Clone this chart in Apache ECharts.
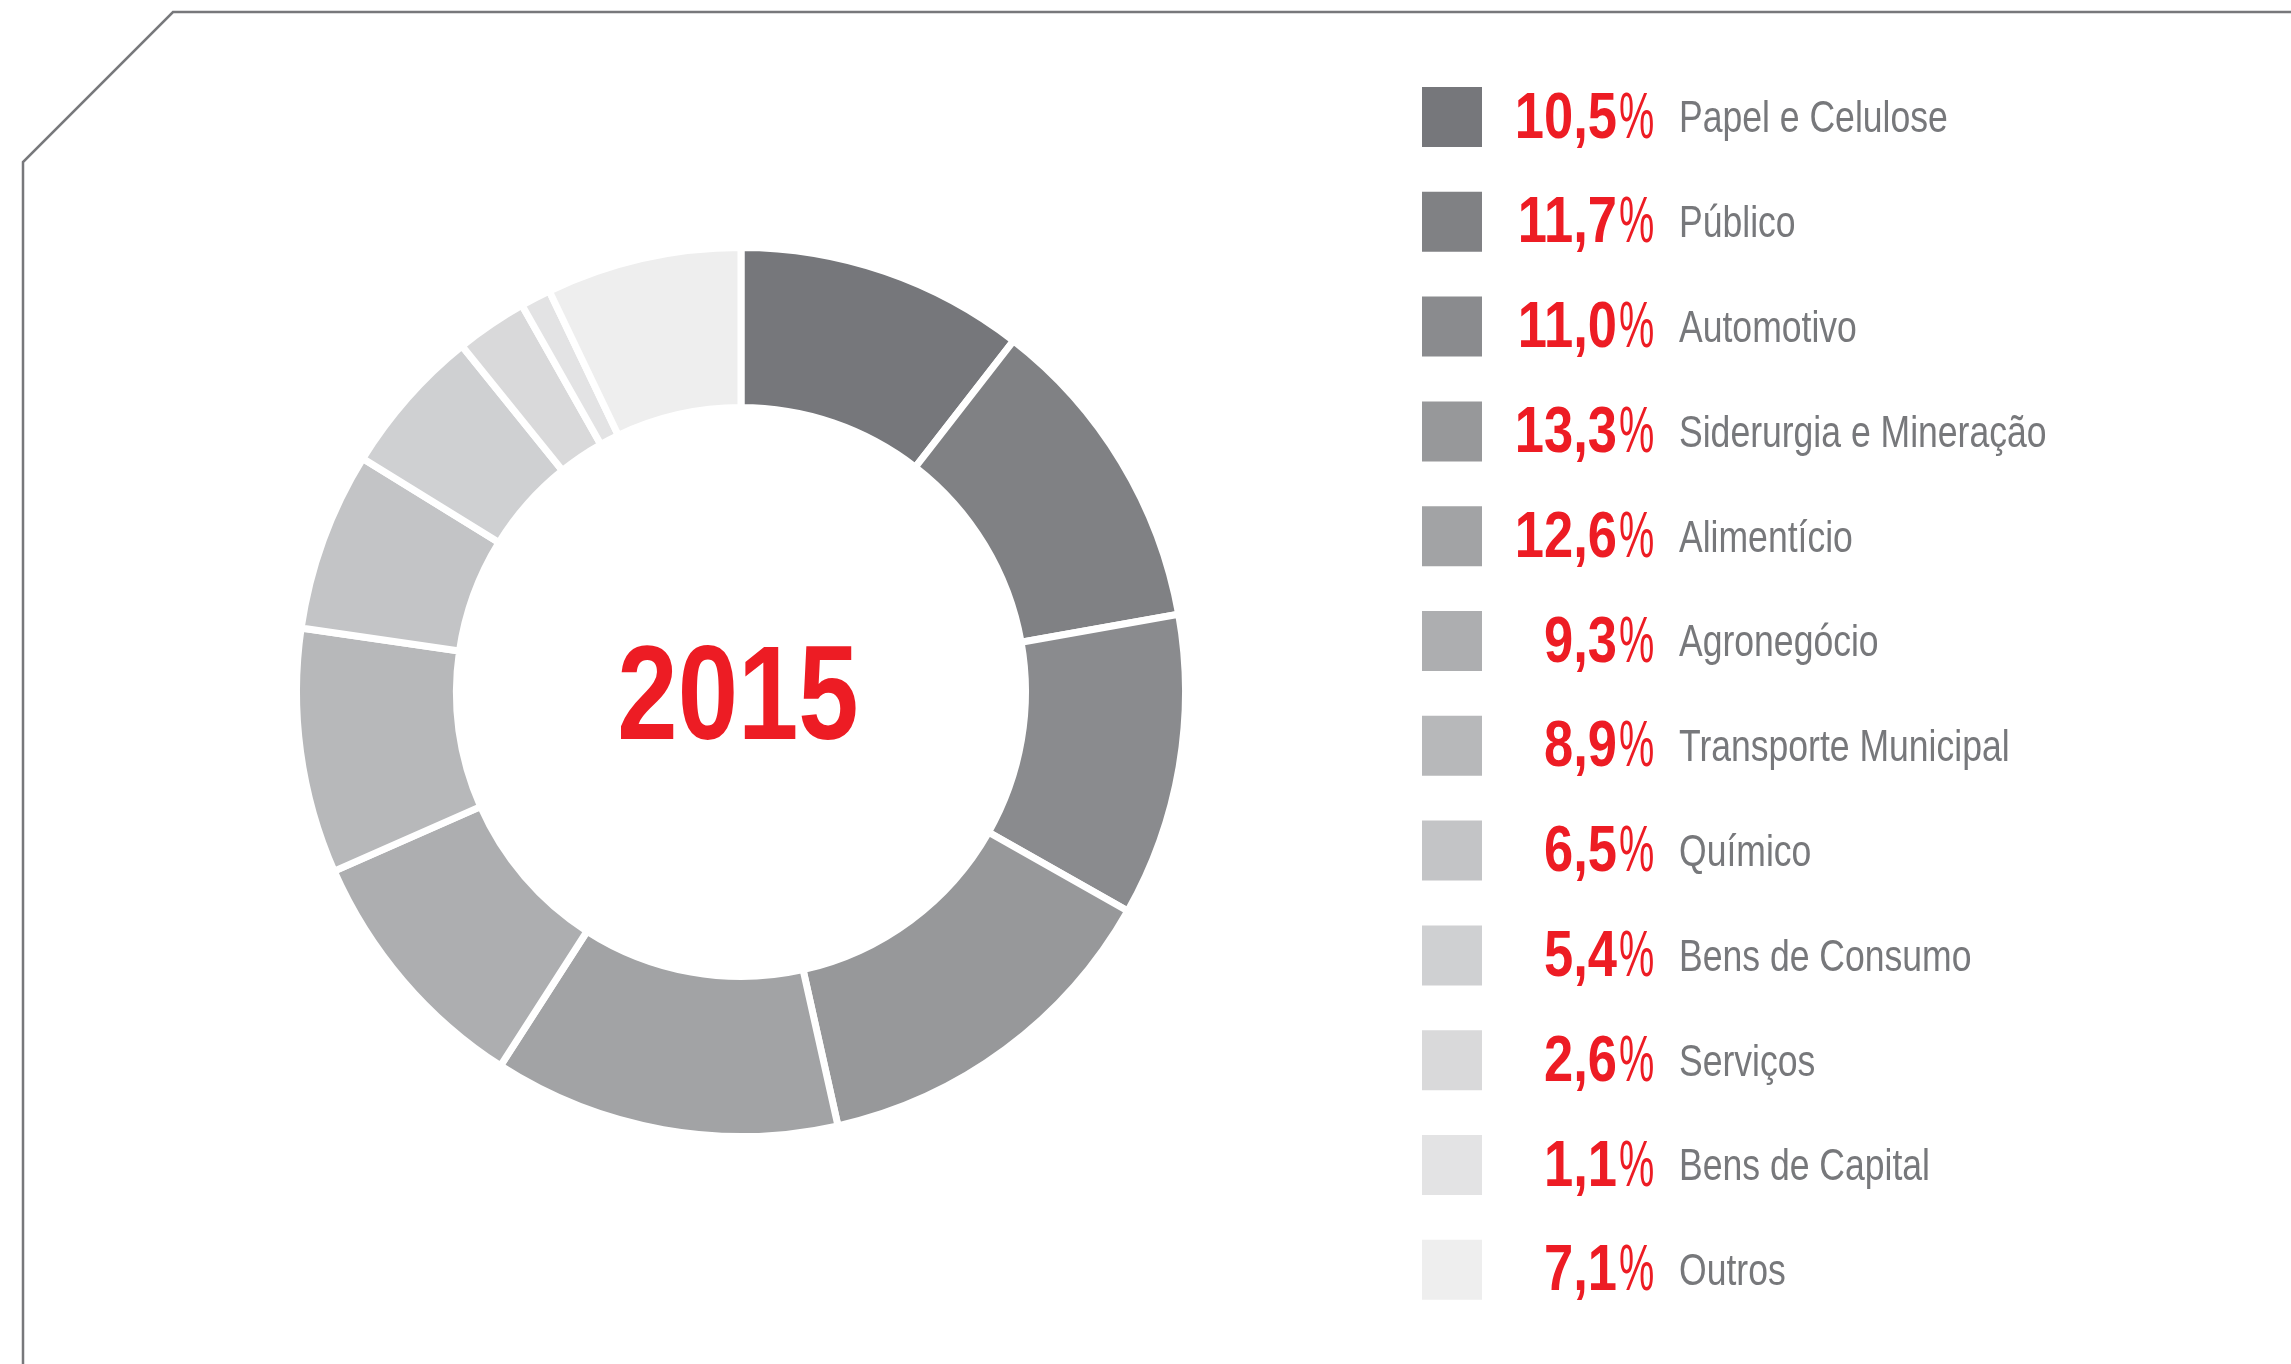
<!DOCTYPE html>
<html lang="pt-BR">
<head>
    <meta charset="UTF-8">
    <title>Setores 2015</title>
    <script src="https://cdn.jsdelivr.net/npm/echarts@6.0.0/dist/echarts.min.js"></script>
    <style>
        body { margin: 0; padding: 0; background: #fff; }
        #main { width: 2291px; height: 1364px; }
    </style>
</head>
<body>
    <div id="main"></div>
    <script>
        // dados
        var sectors = ['Papel e Celulose', 'Público', 'Automotivo', 'Siderurgia e Mineração', 'Alimentício',
            'Agronegócio', 'Transporte Municipal', 'Químico', 'Bens de Consumo', 'Serviços', 'Bens de Capital', 'Outros'];
        var shares = [10.5, 11.7, 11.0, 13.3, 12.6, 9.3, 8.9, 6.5, 5.4, 2.6, 1.1, 7.1];
        var year = '2015';

        var grays = ['#76777b', '#808184', '#8a8b8e', '#97989a', '#a2a3a5', '#adaeb0',
            '#b7b8ba', '#c3c4c6', '#cfd0d2', '#d9d9da', '#e3e3e4', '#eeeeee'];
        var red = '#ed1c24';
        var labelGray = '#77787b';
        var sans = "'Liberation Sans', Arial, sans-serif";

        // legenda: linhas
        var rowTop = 87, rowStep = 104.8, boxSize = 60;

        function fmt(v) {
            return v.toFixed(1).replace('.', ',');
        }

        var chart = echarts.init(document.getElementById('main'), null, { renderer: 'canvas' });

        // textos da legenda (condensados com scaleX)
        var legendTexts = [];
        sectors.forEach(function (s, i) {
            var cy = rowTop + boxSize / 2 + i * rowStep + 3;
            legendTexts.push({
                type: 'text', x: 1617, y: cy, scaleX: 0.82,
                style: { text: fmt(shares[i]), fontFamily: sans, fontWeight: 'bold', fontSize: 64,
                    fill: red, align: 'right', verticalAlign: 'middle' }
            });
            legendTexts.push({
                type: 'text', x: 1619, y: cy, scaleX: 0.62,
                style: { text: '%', fontFamily: sans, fontWeight: 'normal', fontSize: 64,
                    fill: red, align: 'left', verticalAlign: 'middle' }
            });
            legendTexts.push({
                type: 'text', x: 1679, y: cy, scaleX: 0.79,
                style: { text: s, fontFamily: sans, fontSize: 45,
                    fill: labelGray, align: 'left', verticalAlign: 'middle' }
            });
        });

        var option = {
            animation: false,
            color: grays,
            legend: {
                orient: 'vertical',
                left: 1422,
                top: rowTop,
                padding: 0,
                itemWidth: boxSize,
                itemHeight: boxSize,
                itemGap: rowStep - boxSize,
                icon: 'rect',
                selectedMode: false,
                itemStyle: { borderWidth: 0 },
                data: sectors,
                formatter: function () { return ''; },
                textStyle: { fontSize: 10 }
            },
            graphic: [
                {
                    type: 'polyline',
                    shape: { points: [[23, 1364], [23, 162], [173, 12], [2291, 12]] },
                    style: { stroke: labelGray, lineWidth: 2.5, fill: null }
                },
                {
                    type: 'text',
                    x: 738,
                    y: 702,
                    scaleX: 0.81,
                    style: {
                        text: year,
                        fontFamily: sans,
                        fontWeight: 'bold',
                        fontSize: 134,
                        fill: red,
                        align: 'center',
                        verticalAlign: 'middle'
                    }
                }
            ].concat(legendTexts),
            series: [
                {
                    type: 'pie',
                    center: [741, 692],
                    radius: [284.5, 444.5],
                    startAngle: 90,
                    clockwise: true,
                    label: { show: false },
                    labelLine: { show: false },
                    emphasis: { disabled: true },
                    itemStyle: { borderColor: '#ffffff', borderWidth: 7 },
                    data: sectors.map(function (s, i) {
                        return { name: s, value: shares[i] };
                    })
                }
            ]
        };

        chart.setOption(option);
    </script>
</body>
</html>
